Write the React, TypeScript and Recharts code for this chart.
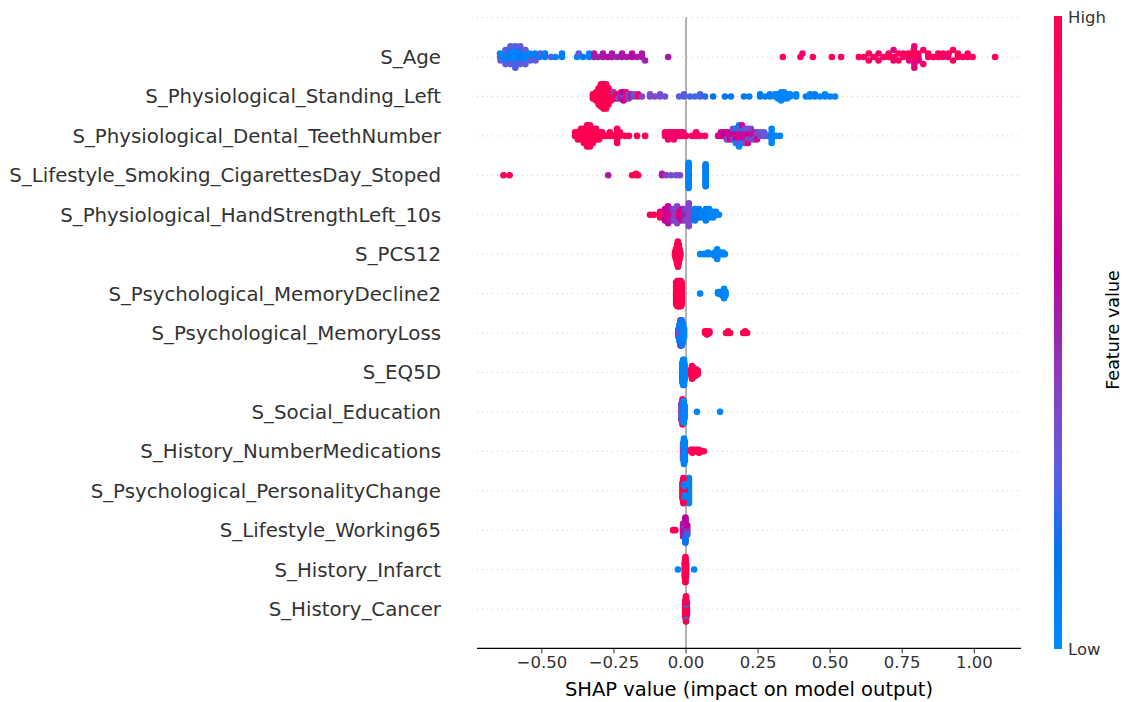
import { ScatterChart, Scatter, XAxis, YAxis, CartesianGrid, ReferenceLine } from "recharts";

// [shap value, number of samples, feature value 0 (low) .. 1 (high)]
type Pt = [number, number, number];

const FEATURES = [
  "S_Age",
  "S_Physiological_Standing_Left",
  "S_Physiological_Dental_TeethNumber",
  "S_Lifestyle_Smoking_CigarettesDay_Stoped",
  "S_Physiological_HandStrengthLeft_10s",
  "S_PCS12",
  "S_Psychological_MemoryDecline2",
  "S_Psychological_MemoryLoss",
  "S_EQ5D",
  "S_Social_Education",
  "S_History_NumberMedications",
  "S_Psychological_PersonalityChange",
  "S_Lifestyle_Working65",
  "S_History_Infarct",
  "S_History_Cancer",
];

const AGE: Pt[] = [
  [-0.645, 2, 0.05], [-0.643, 1, 0.3],
  [-0.628, 3, 0.05], [-0.626, 2, 0.28],
  [-0.611, 4, 0.08], [-0.609, 2, 0.3],
  [-0.594, 4, 0.05], [-0.592, 3, 0.25],
  [-0.577, 4, 0.1], [-0.575, 2, 0.3],
  [-0.559, 3, 0.05], [-0.557, 2, 0.3],
  [-0.542, 2, 0.05], [-0.540, 1, 0.28],
  [-0.524, 2, 0.1], [-0.522, 1, 0.3],
  [-0.507, 1, 0.05], [-0.505, 1, 0.25],
  [-0.489, 2, 0.1], [-0.468, 1, 0.25], [-0.452, 1, 0.05], [-0.430, 2, 0.08],
  [-0.378, 1, 0.05], [-0.372, 1, 0.3], [-0.357, 1, 0.1], [-0.336, 2, 0.05],
  [-0.319, 2, 0.55], [-0.305, 1, 0.5], [-0.288, 2, 0.55], [-0.271, 1, 0.58],
  [-0.257, 2, 0.55], [-0.239, 1, 0.52], [-0.222, 2, 0.55], [-0.205, 1, 0.55],
  [-0.187, 2, 0.58], [-0.170, 1, 0.55], [-0.153, 2, 0.55], [-0.142, 1, 0.5],
  [-0.062, 1, 0.55],
  [0.336, 1, 0.9], [0.397, 1, 0.95], [0.404, 1, 0.85], [0.440, 1, 0.9], [0.506, 1, 0.95], [0.538, 1, 0.9],
  [0.600, 1, 0.95], [0.617, 1, 0.9], [0.634, 2, 0.95], [0.651, 1, 0.75], [0.653, 1, 0.95],
  [0.668, 2, 0.9], [0.685, 1, 0.75], [0.687, 1, 0.95], [0.703, 2, 0.95], [0.720, 2, 0.8], [0.722, 1, 0.95],
  [0.737, 2, 0.95], [0.754, 2, 0.9], [0.772, 2, 1.0], [0.774, 1, 0.75], [0.790, 4, 0.95], [0.792, 3, 0.8],
  [0.806, 2, 0.95], [0.808, 1, 0.75], [0.823, 2, 0.9], [0.840, 2, 0.95], [0.857, 1, 0.8], [0.859, 1, 0.95],
  [0.875, 2, 0.95], [0.892, 2, 0.9], [0.909, 1, 0.75], [0.911, 1, 0.95], [0.926, 2, 0.95], [0.943, 2, 1.0],
  [0.960, 1, 0.9], [0.977, 2, 0.95], [0.994, 1, 0.95], [1.072, 1, 1.0],
];

const STANDING_LEFT: Pt[] = [
  [-0.323, 3, 1.0], [-0.312, 5, 1.0], [-0.303, 9, 1.0], [-0.295, 12, 1.0], [-0.286, 13, 1.0],
  [-0.277, 13, 1.0], [-0.269, 9, 1.0], [-0.260, 5, 0.98], [-0.251, 3, 1.0], [-0.251, 1, 0.4],
  [-0.243, 2, 1.0], [-0.243, 1, 0.75],
  [-0.234, 2, 0.7], [-0.234, 1, 0.35], [-0.225, 2, 0.35], [-0.225, 2, 0.8], [-0.217, 3, 0.35], [-0.217, 2, 0.6],
  [-0.208, 2, 0.4], [-0.208, 2, 0.9], [-0.199, 3, 0.38], [-0.191, 2, 0.5], [-0.180, 2, 0.35], [-0.166, 2, 0.9],
  [-0.153, 1, 0.4],
  [-0.125, 2, 0.35], [-0.108, 1, 0.38], [-0.090, 2, 0.35], [-0.073, 1, 0.35],
  [-0.024, 1, 0.25], [-0.007, 2, 0.28], [0.014, 1, 0.25], [0.031, 1, 0.22], [0.049, 2, 0.25], [0.066, 1, 0.2],
  [0.094, 1, 0.15], [0.135, 1, 0.15], [0.156, 1, 0.12], [0.201, 1, 0.12], [0.219, 1, 0.1],
  [0.257, 2, 0.1], [0.274, 1, 0.08], [0.291, 2, 0.08],
  [0.309, 2, 0.05], [0.319, 3, 0.05], [0.330, 5, 0.05], [0.340, 4, 0.05], [0.350, 3, 0.05], [0.361, 2, 0.05],
  [0.382, 2, 0.05], [0.416, 1, 0.08], [0.430, 2, 0.05], [0.447, 2, 0.08], [0.465, 1, 0.05],
  [0.482, 2, 0.05], [0.500, 1, 0.08], [0.517, 1, 0.05],
];

const TEETH_NUMBER: Pt[] = [
  [-0.385, 2, 1.0], [-0.375, 3, 1.0], [-0.364, 4, 1.0], [-0.354, 5, 1.0], [-0.343, 7, 1.0], [-0.333, 7, 0.98],
  [-0.323, 5, 1.0], [-0.312, 4, 1.0], [-0.302, 3, 1.0], [-0.291, 2, 0.95], [-0.277, 1, 1.0], [-0.264, 2, 1.0],
  [-0.250, 1, 0.95], [-0.239, 5, 1.0], [-0.229, 2, 0.95], [-0.212, 1, 1.0], [-0.198, 1, 0.95], [-0.170, 1, 1.0],
  [-0.142, 1, 0.95],
  [-0.073, 2, 0.9], [-0.062, 3, 0.85], [-0.052, 2, 0.9], [-0.042, 3, 0.88], [-0.031, 2, 0.85], [-0.021, 2, 0.9],
  [-0.010, 2, 0.85], [0.000, 1, 0.9], [0.021, 1, 0.9], [0.035, 2, 0.92], [0.049, 1, 0.9], [0.066, 1, 0.9],
  [0.111, 1, 0.75], [0.121, 2, 0.7], [0.132, 2, 0.6], [0.142, 2, 0.72], [0.142, 1, 0.4],
  [0.153, 2, 0.55], [0.153, 1, 0.75], [0.163, 2, 0.75], [0.163, 2, 0.4], [0.173, 3, 0.6], [0.173, 2, 0.05],
  [0.184, 3, 0.75], [0.184, 2, 0.35], [0.184, 2, 0.05], [0.194, 3, 0.55], [0.194, 2, 0.08], [0.194, 1, 0.75],
  [0.205, 3, 0.7], [0.205, 2, 0.35], [0.215, 2, 0.6], [0.215, 2, 0.3], [0.215, 1, 0.8],
  [0.225, 2, 0.72], [0.225, 2, 0.4], [0.236, 2, 0.55], [0.236, 1, 0.35], [0.246, 2, 0.4], [0.246, 1, 0.7],
  [0.257, 2, 0.35], [0.271, 2, 0.3], [0.284, 1, 0.3],
  [0.297, 5, 0.05], [0.312, 1, 0.05], [0.326, 1, 0.05],
];

const SMOKING_STOPED: Pt[] = [
  [-0.633, 1, 1.0], [-0.612, 1, 0.98],
  [-0.270, 1, 0.55],
  [-0.187, 1, 1.0], [-0.173, 2, 1.0], [-0.166, 1, 1.0],
  [-0.083, 2, 0.55], [-0.069, 1, 0.42], [-0.052, 1, 0.35], [-0.035, 1, 0.35], [-0.021, 1, 0.38],
  [0.009, 17, 0.05], [0.068, 15, 0.08],
];

const HAND_STRENGTH: Pt[] = [
  [-0.125, 1, 1.0], [-0.111, 1, 1.0],
  [-0.090, 2, 0.85], [-0.090, 1, 1.0],
  [-0.073, 3, 0.75], [-0.073, 2, 0.6],
  [-0.062, 4, 0.75], [-0.062, 3, 0.65],
  [-0.052, 3, 0.7], [-0.052, 2, 0.5],
  [-0.042, 1, 1.0], [-0.042, 4, 0.4],
  [-0.031, 7, 0.38],
  [-0.024, 1, 1.0], [-0.024, 2, 0.7],
  [-0.014, 1, 1.0], [-0.014, 4, 0.7],
  [-0.003, 3, 0.5], [-0.003, 2, 0.4],
  [0.010, 1, 1.0], [0.010, 8, 0.38],
  [0.031, 5, 0.1], [0.045, 4, 0.12],
  [0.059, 3, 0.05], [0.069, 5, 0.08], [0.080, 4, 0.05],
  [0.094, 3, 0.05], [0.104, 2, 0.05], [0.114, 1, 0.05],
];

const PCS12: Pt[] = [
  [-0.038, 3, 1.0], [-0.035, 7, 1.0], [-0.031, 13, 1.0], [-0.028, 17, 1.0], [-0.025, 13, 1.0],
  [-0.022, 7, 1.0], [-0.020, 3, 1.0],
  [0.049, 1, 0.05], [0.062, 1, 0.05], [0.076, 2, 0.05], [0.090, 1, 0.05], [0.100, 3, 0.05],
  [0.108, 7, 0.05], [0.118, 2, 0.05], [0.128, 2, 0.05], [0.135, 1, 0.05],
];

const MEMORY_DECLINE2: Pt[] = [
  [-0.034, 15, 1.0], [-0.030, 17, 1.0], [-0.026, 17, 1.0], [-0.022, 17, 1.0], [-0.018, 17, 1.0], [-0.015, 15, 1.0],
  [0.049, 1, 0.05], [0.111, 2, 0.05], [0.118, 2, 0.05], [0.125, 3, 0.05], [0.132, 7, 0.05], [0.137, 3, 0.05],
];

const MEMORY_LOSS: Pt[] = [
  [-0.027, 3, 0.6], [-0.027, 2, 0.1],
  [-0.023, 5, 0.3], [-0.023, 6, 0.1],
  [-0.019, 7, 0.3], [-0.019, 8, 0.08], [-0.019, 2, 0.7],
  [-0.015, 5, 0.35], [-0.015, 12, 0.1],
  [-0.011, 13, 0.08],
  [-0.007, 7, 0.05],
  [0.066, 2, 1.0], [0.073, 3, 1.0], [0.081, 2, 1.0],
  [0.139, 1, 1.0], [0.146, 2, 1.0], [0.153, 1, 1.0],
  [0.198, 1, 1.0], [0.205, 2, 1.0], [0.212, 1, 1.0],
];

const EQ5D: Pt[] = [
  [-0.013, 13, 0.05], [-0.010, 17, 0.05], [-0.007, 17, 0.05], [-0.005, 11, 0.05],
  [0.018, 5, 1.0], [0.021, 9, 1.0], [0.025, 7, 1.0], [0.030, 5, 1.0], [0.035, 5, 1.0], [0.041, 3, 1.0],
];

const EDUCATION: Pt[] = [
  [-0.016, 9, 0.35], [-0.016, 2, 0.55],
  [-0.012, 11, 0.05], [-0.012, 2, 1.0], [-0.012, 2, 0.05], [-0.012, 2, 1.0],
  [-0.008, 1, 0.05], [-0.008, 1, 1.0], [-0.008, 13, 0.05],
  [-0.005, 9, 0.05],
  [0.038, 1, 0.05], [0.118, 1, 0.05],
];

const NUMBER_MEDICATIONS: Pt[] = [
  [-0.010, 7, 0.35], [-0.010, 4, 0.1],
  [-0.007, 3, 0.55], [-0.007, 8, 0.3], [-0.007, 6, 0.05],
  [-0.004, 13, 0.05],
  [0.017, 2, 1.0], [0.022, 3, 1.0], [0.028, 2, 1.0], [0.038, 2, 1.0], [0.045, 3, 0.98], [0.055, 1, 1.0], [0.062, 1, 1.0],
];

const PERSONALITY_CHANGE: Pt[] = [
  [0.007, 15, 0.05], [0.010, 17, 0.05],
  [-0.012, 11, 1.0], [-0.009, 7, 1.0], [-0.009, 1, 0.05], [-0.009, 9, 1.0],
  [-0.005, 5, 1.0], [-0.005, 4, 0.05],
];

const WORKING65: Pt[] = [
  [-0.045, 1, 1.0], [-0.037, 1, 1.0],
  [-0.010, 1, 1.0], [-0.010, 8, 0.55],
  [-0.002, 9, 0.5], [-0.002, 1, 0.55], [-0.002, 1, 0.2], [-0.002, 1, 0.55], [-0.002, 1, 0.2],
  [-0.002, 1, 0.6], [-0.002, 1, 0.15], [-0.002, 1, 0.6], [-0.002, 1, 0.15],
  [0.004, 5, 0.45], [0.004, 1, 0.6], [0.004, 1, 0.2],
];

const INFARCT: Pt[] = [
  [-0.028, 1, 0.05], [-0.004, 11, 1.0], [-0.002, 17, 1.0], [0.000, 9, 1.0], [0.028, 1, 0.05],
];

const CANCER: Pt[] = [
  [-0.003, 11, 1.0], [0.003, 9, 1.0],
  [0.000, 5, 1.0], [0.000, 1, 0.05], [0.000, 8, 1.0], [0.000, 1, 0.05], [0.000, 2, 1.0],
];

const ROWS: Pt[][] = [
  AGE, STANDING_LEFT, TEETH_NUMBER, SMOKING_STOPED, HAND_STRENGTH, PCS12, MEMORY_DECLINE2,
  MEMORY_LOSS, EQ5D, EDUCATION, NUMBER_MEDICATIONS, PERSONALITY_CHANGE, WORKING65, INFARCT, CANCER,
];

const X_TICKS = [-0.5, -0.25, 0, 0.25, 0.5, 0.75, 1.0];
const Y_TICKS = FEATURES.map((_, i) => i);

const NBINS = 100;
const ROW_HEIGHT = 0.4;

// shap's red_blue colormap: LCH ramp blue -> dark mid -> red
function lchToHex(l: number, c: number, h: number) {
  const a = c * Math.cos(h), b = c * Math.sin(h);
  const fy = (l + 16) / 116, fx = fy + a / 500, fz = fy - b / 200;
  const finv = (t: number) => (t > 6 / 29 ? t * t * t : 3 * (6 / 29) ** 2 * (t - 4 / 29));
  const X = 0.95047 * finv(fx), Y = finv(fy), Z = 1.08883 * finv(fz);
  const lin = [
    3.2406 * X - 1.5372 * Y - 0.4986 * Z,
    -0.9689 * X + 1.8758 * Y + 0.0415 * Z,
    0.0557 * X - 0.204 * Y + 1.057 * Z,
  ];
  const hex = lin.map((v) => {
    const s = v <= 0.0031308 ? 12.92 * v : 1.055 * Math.pow(Math.max(v, 0), 1 / 2.4) - 0.055;
    return Math.round(Math.min(1, Math.max(0, s)) * 255).toString(16).padStart(2, "0");
  });
  return "#" + hex.join("");
}

function redBlue(t: number) {
  const l = t < 0.5 ? 54 - 14 * (t / 0.5) : 40 + 14 * ((t - 0.5) / 0.5);
  const c = 70 + 20 * t;
  const h = 4.6588 + (0.35470565 + 2 * Math.PI - 4.6588) * t;
  return lchToHex(l, c, h);
}

// same beeswarm stacking as shap.summary_plot
function swarm(row: Pt[], pos: number) {
  const pts: { v: number; c: number }[] = [];
  row.forEach(([v, n, c]) => {
    for (let k = 0; k < n; k++) pts.push({ v, c });
  });
  const lo = Math.min(...pts.map((p) => p.v));
  const hi = Math.max(...pts.map((p) => p.v));
  const quant = pts.map((p) => Math.round((NBINS * (p.v - lo)) / (hi - lo + 1e-8)));
  const order = pts.map((_, i) => i).sort((a, b) => quant[a] - quant[b] || a - b);
  const ys = new Array(pts.length).fill(0);
  let layer = 0;
  let last = -1;
  for (const i of order) {
    if (quant[i] !== last) layer = 0;
    ys[i] = Math.ceil(layer / 2) * ((layer % 2) * 2 - 1);
    layer++;
    last = quant[i];
  }
  const k = 0.9 * (ROW_HEIGHT / (Math.max(...ys) + 1));
  return pts.map((p, i) => ({ x: p.v, y: pos + ys[i] * k, color: redBlue(p.c) }));
}

const POINTS = ROWS.flatMap((row, i) => swarm(row, ROWS.length - 1 - i));

const renderDot = (p: any) => <circle cx={p.cx} cy={p.cy} r={3.3} fill={p.payload.color} />;

const fmtX = (v: number) => (v < 0 ? "\u2212" : "") + Math.abs(v).toFixed(2);

const GRAD = Array.from({ length: 21 }, (_, i) => i / 20);

export default function App() {
  return (
    <div style={{ position: "absolute", left: 0, top: 0, width: 1123, height: 702, background: "#fff", fontFamily: '"DejaVu Sans", sans-serif' }}>
      <ScatterChart width={1123} height={702} margin={{ top: 17.6, right: 102, bottom: 23.6, left: 417 }}>
        <CartesianGrid vertical={false} stroke="#cccccc" strokeDasharray="1 4" />
        <XAxis
          type="number" dataKey="x" domain={[-0.725, 1.162]} ticks={X_TICKS} allowDataOverflow
          tickFormatter={fmtX} height={30} tickSize={5} tickMargin={3}
          tick={{ fontSize: 16.5, fill: "#333" }} tickLine={{ stroke: "#333" }}
          axisLine={{ stroke: "#000", strokeWidth: 1.2 }}
          label={{ value: "SHAP value (impact on model output)", position: "bottom", offset: 4, fontSize: 19.5, fill: "#000" }}
        />
        <YAxis
          type="number" dataKey="y" domain={[-1, 15]} ticks={Y_TICKS} interval={0} width={60}
          axisLine={false} tickLine={false} tickSize={0} tickMargin={36}
          tick={{ fontSize: 19.8, fill: "#333" }}
          tickFormatter={(v: number) => FEATURES[FEATURES.length - 1 - v]}
        />
        <ReferenceLine x={0} stroke="#999999" strokeWidth={1.5} />
        <Scatter data={POINTS} shape={renderDot} isAnimationActive={false} />
      </ScatterChart>
      <svg width={1123} height={702} style={{ position: "absolute", left: 0, top: 0, pointerEvents: "none" }}>
        <defs>
          <linearGradient id="cbar" x1="0" y1="1" x2="0" y2="0">
            {GRAD.map((t) => (
              <stop key={t} offset={t} stopColor={redBlue(t)} />
            ))}
          </linearGradient>
        </defs>
        <rect x={1054} y={16} width={8} height={633} fill="url(#cbar)" />
        <text x={1068} y={17} fontSize={16.5} fill="#333" dominantBaseline="central">High</text>
        <text x={1068} y={649} fontSize={16.5} fill="#333" dominantBaseline="central">Low</text>
        <text x={1113} y={330} fontSize={17.5} fill="#000" textAnchor="middle" dominantBaseline="central" transform="rotate(-90 1113 330)">
          Feature value
        </text>
      </svg>
    </div>
  );
}
